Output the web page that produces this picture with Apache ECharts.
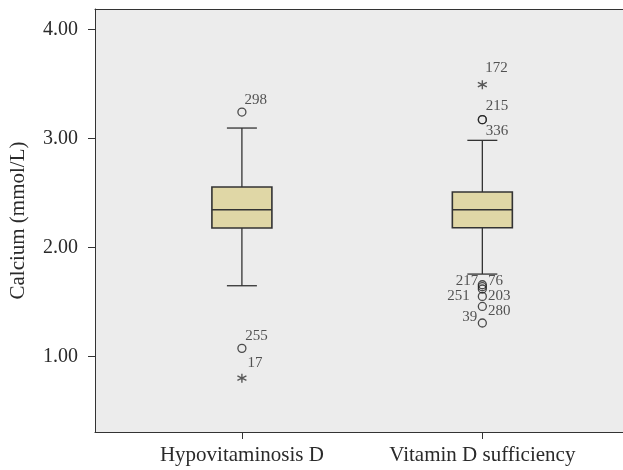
<!DOCTYPE html>
<html>
<head>
<meta charset="utf-8">
<script src="https://cdn.jsdelivr.net/npm/echarts@6/dist/echarts.min.js"></script>
<style>html,body{margin:0;padding:0;background:#fff;overflow:hidden;}#c{width:623px;height:470px;}</style>
</head>
<body>
<div id="c"></div>
<script>
// ---- data ----
const categories = ['Hypovitaminosis D', 'Vitamin D sufficiency'];
// [lower whisker, Q1, median, Q3, upper whisker]
const boxStats = [
  [1.649, 2.179, 2.347, 2.556, 3.097],
  [1.756, 2.182, 2.347, 2.510, 2.984]
];
const circleGroup  = [0, 0, 1, 1, 1, 1, 1, 1, 1, 1];
const circleValues = [3.244, 1.074, 3.174, 3.174, 1.658, 1.640, 1.619, 1.551, 1.459, 1.307];
const circleIds    = ['298', '255', '215', '336', '217', '76', '251', '203', '280', '39'];
const starGroup  = [0, 1];
const starValues = [0.800, 3.495];
const starIds    = ['17', '172'];
const yTicks = [1, 2, 3, 4];

// ---- label placement (style) ----
const labelPlace = {
  '298': [2.6, -12.3, 'left'], '255': [3.3, -12.7, 'left'], '17': [5.6, -15, 'left'],
  '172': [3, -16.7, 'left'], '215': [3.3, -13.3, 'left'], '336': [3.3, 11.7, 'left'],
  '217': [-4, -3.3, 'right'], '76': [5.6, -5.3, 'left'], '251': [-12.7, 7.4, 'right'],
  '203': [5.6, 0, 'left'], '280': [5.6, 5, 'left'], '39': [-5, -6, 'right']
};
const FONT = 'Liberation Serif';
const INK = '#333';
const TXT = '#2a2a2a';

function lbl(id) {
  const p = labelPlace[id];
  return {
    show: true, formatter: id, position: 'inside', align: p[2], verticalAlign: 'middle',
    offset: [p[0], p[1]], fontSize: 15, fontFamily: FONT, color: TXT
  };
}

function renderBox(params, api) {
  const x = api.value(0);
  const lo = api.coord([x, api.value(1)]);
  const q1 = api.coord([x, api.value(2)]);
  const md = api.coord([x, api.value(3)]);
  const q3 = api.coord([x, api.value(4)]);
  const hi = api.coord([x, api.value(5)]);
  const cx = lo[0], hb = 30, hc = 15;
  const ls = { stroke: INK, lineWidth: 1.3 };
  return {
    type: 'group',
    children: [
      { type: 'line', shape: { x1: cx, y1: lo[1], x2: cx, y2: q1[1] }, style: ls },
      { type: 'line', shape: { x1: cx, y1: q3[1], x2: cx, y2: hi[1] }, style: ls },
      { type: 'line', shape: { x1: cx - hc, y1: lo[1], x2: cx + hc, y2: lo[1] }, style: ls },
      { type: 'line', shape: { x1: cx - hc, y1: hi[1], x2: cx + hc, y2: hi[1] }, style: ls },
      { type: 'rect', shape: { x: cx - hb, y: q3[1], width: 2 * hb, height: q1[1] - q3[1] },
        style: { fill: '#e0d7a6', stroke: INK, lineWidth: 1.6 } },
      { type: 'line', shape: { x1: cx - hb, y1: md[1], x2: cx + hb, y2: md[1] }, style: { stroke: INK, lineWidth: 1.6 } }
    ]
  };
}

const frame = { show: true, onZero: false, lineStyle: { color: '#333', width: 1 } };

const chart = echarts.init(document.getElementById('c'), null, { renderer: 'canvas' });
chart.setOption({
  animation: false,
  backgroundColor: '#fff',
  grid: { left: 93, right: 0, top: 9, bottom: 38, show: true, backgroundColor: '#ececec', borderWidth: 0 },
  xAxis: [{
    type: 'value', min: -0.611, max: 1.585,
    axisLine: frame, splitLine: { show: false },
    axisTick: { show: true, length: 7, customValues: [0, 1], lineStyle: { color: INK, width: 1 } },
    axisLabel: { customValues: [0, 1], formatter: v => categories[Math.round(v)], fontSize: 21, fontFamily: FONT, color: TXT, margin: 13 }
  }, {
    type: 'value', position: 'top', min: -0.611, max: 1.585,
    axisLine: frame, splitLine: { show: false }, axisTick: { show: false }, axisLabel: { show: false }
  }],
  yAxis: {
    type: 'value', min: 0.306, max: 4.19,
    name: 'Calcium (mmol/L)', nameLocation: 'middle', nameGap: 66,
    nameTextStyle: { fontSize: 21, fontFamily: FONT, color: TXT },
    axisLine: frame, splitLine: { show: false },
    axisTick: { show: true, length: 7, customValues: yTicks, lineStyle: { color: INK, width: 1 } },
    axisLabel: { customValues: yTicks, formatter: v => v.toFixed(2), fontSize: 20, fontFamily: FONT, color: TXT, margin: 17 }
  },
  series: [
    {
      type: 'custom', renderItem: renderBox,
      data: boxStats.map((s, i) => [i].concat(s)),
      encode: { x: 0, y: [1, 2, 3, 4, 5] }, z: 2
    },
    {
      type: 'scatter', symbol: 'circle', symbolSize: 8,
      itemStyle: { color: 'rgba(0,0,0,0)', borderColor: '#222', borderWidth: 1.3 },
      data: circleValues.map((v, i) => ({ value: [circleGroup[i], v], label: lbl(circleIds[i]) })), z: 3
    },
    {
      type: 'scatter', symbol: 'path://M0,-5L0,5M-4.33,-2.5L4.33,2.5M-4.33,2.5L4.33,-2.5', symbolSize: 9,
      itemStyle: { color: 'rgba(0,0,0,0)', borderColor: '#333', borderWidth: 1.4 },
      data: starValues.map((v, i) => ({ value: [starGroup[i], v], label: lbl(starIds[i]) })), z: 3
    }
  ]
});
</script>
</body>
</html>
